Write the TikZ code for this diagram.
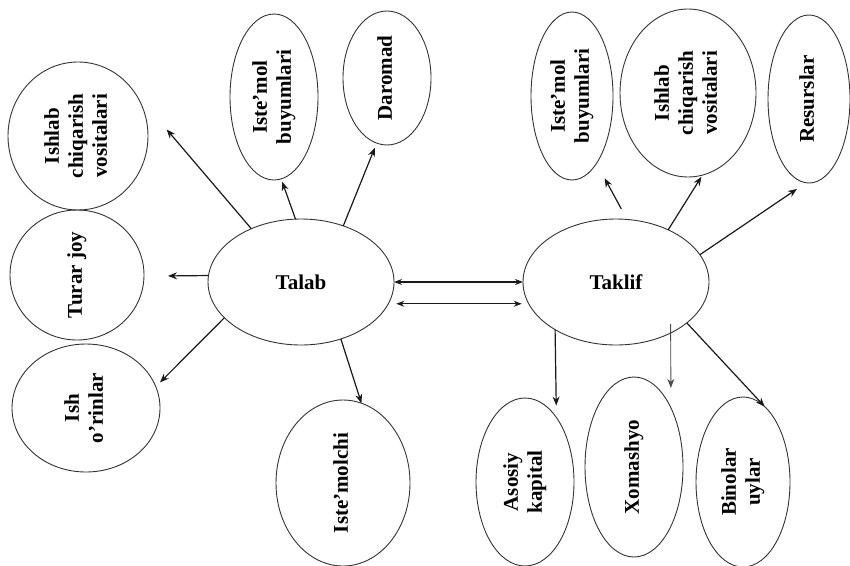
\documentclass[tikz,border=0pt]{standalone}
\usepackage{fontspec}
\setmainfont{Liberation Serif}
\usepackage{graphicx}
\usetikzlibrary{shapes.geometric,arrows.meta}
\newcommand{\vtext}[1]{\rotatebox{90}{\begin{tabular}{@{}c@{}}#1\end{tabular}}}
\tikzset{
  ell/.style={ellipse, draw=black!80, line width=0.9pt, inner sep=0pt, outer sep=0pt,
    font=\bfseries\fontsize{21}{24}\selectfont},
  arr/.style={-{Stealth[length=9pt,width=7pt]}, line width=1.2pt, draw=black!90},
  darr/.style={{Stealth[length=8pt,width=6pt]}-{Stealth[length=8pt,width=6pt]}, line width=1.2pt, draw=black!90},
  larr/.style={-{Stealth[length=9pt,width=7pt]}, line width=0.9pt, draw=black!70}
}
\begin{document}
\begin{tikzpicture}[x=1pt,y=-1pt]
\useasboundingbox (0,0) rectangle (850,565);
% central nodes
\node[ell, minimum width=186pt, minimum height=126pt] (talab) at (301,282) {Talab};
\node[ell, minimum width=186pt, minimum height=126pt] (taklif) at (616,282) {Taklif};
% Talab satellites
\node[ell, minimum width=140pt, minimum height=148pt] (ishL) at (78,136) {\vtext{Ishlab\\chiqarish\\vositalari}};
\node[ell, minimum width=134pt, minimum height=130pt] (turar) at (77,275) {\vtext{Turar joy}};
\node[ell, minimum width=148pt, minimum height=128pt] (ishO) at (86,408) {\vtext{Ish\\o’rinlar}};
\node[ell, minimum width=134pt, minimum height=166pt] (istm) at (343,483) {\vtext{Iste’molchi}};
\node[ell, minimum width=88pt, minimum height=166pt] (ibL) at (274,97) {\vtext{Iste’mol\\buyumlari}};
\node[ell, minimum width=88pt, minimum height=134pt] (daro) at (387,78) {\vtext{Daromad}};
% Taklif satellites
\node[ell, minimum width=82pt, minimum height=168pt] (ibR) at (572,96) {\vtext{Iste’mol\\buyumlari}};
\node[ell, minimum width=136pt, minimum height=168pt] (ishR) at (688,93) {\vtext{Ishlab\\chiqarish\\vositalari}};
\node[ell, minimum width=82pt, minimum height=168pt] (resur) at (809,99) {\vtext{Resurslar}};
\node[ell, minimum width=98pt, minimum height=168pt] (asos) at (525,482) {\vtext{Asosiy\\kapital}};
\node[ell, minimum width=98pt, minimum height=180pt] (xom) at (634,467) {\vtext{Xomashyo}};
\node[ell, minimum width=94pt, minimum height=170pt] (bin) at (743,482) {\vtext{Binolar\\uylar}};
% Talab arrows
\draw[arr, shorten >=57pt] (talab.133) -- (ishL.44);
\draw[arr, shorten >=3pt] (talab.95) -- (ibL.-85);
\draw[arr, shorten >=5pt] (talab.53) -- (daro.261);
\draw[arr, shorten >=24pt] (talab.176) -- (turar.-1);
\draw[arr, shorten >=6pt] (talab.205) -- (ishO.17);
\draw[arr] (talab.-55) -- (istm.77);
% central double arrows
\draw[darr] (talab.east) -- (taklif.west);
\draw[darr, shorten <=8pt, shorten >=7pt] (talab.-14) -- (taklif.194);
% Taklif arrows
\draw[arr, shorten <=12pt, shorten >=17pt] (taklif.80) -- (ibR.-70);
\draw[arr, shorten >=2pt] (taklif.45) -- (ishR.-80);
\draw[arr, shorten >=11pt] (taklif.18) -- (resur.-92);
\draw[arr, shorten >=12pt] (taklif.218) -- (asos.64.5);
\draw[larr, shorten <=-9pt, shorten >=20pt] (taklif.-43) -- (xom.58);
\draw[arr] (taklif.-30) -- (bin.74);
\end{tikzpicture}
\end{document}
